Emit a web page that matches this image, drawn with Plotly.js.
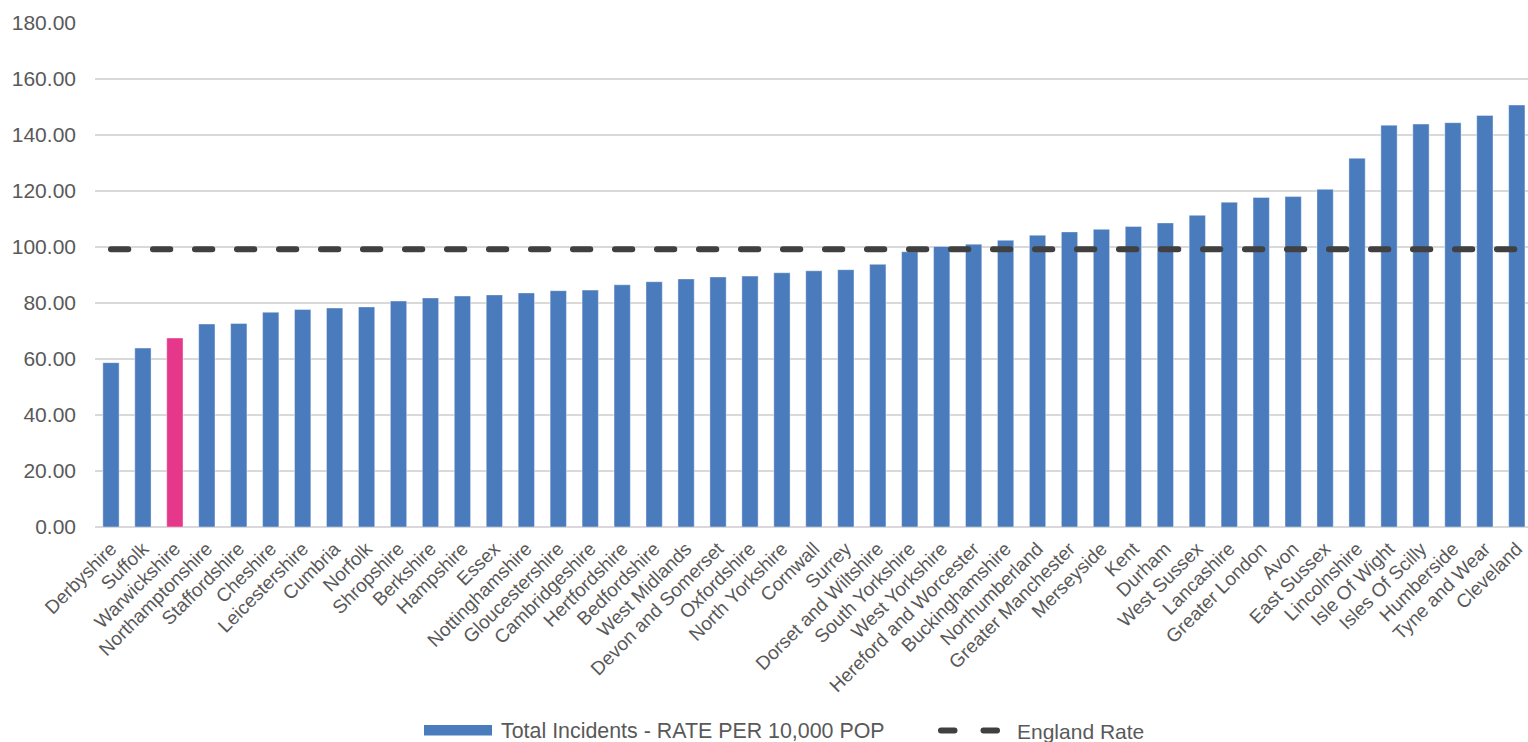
<!DOCTYPE html>
<html>
<head>
<meta charset="utf-8">
<script src="https://cdn.plot.ly/plotly-3.0.1.min.js"></script>
<style>
  html, body { margin: 0; padding: 0; background: #ffffff; }
  #chart { width: 1528px; height: 742px; }
  .scatterlayer .js-line, .shapelayer path.dashcap { stroke-linecap: round !important; }
</style>
</head>
<body>
<div id="chart"></div>
<script>
// ---- Data ----
const categories = [
  "Derbyshire", "Suffolk", "Warwickshire", "Northamptonshire", "Staffordshire",
  "Cheshire", "Leicestershire", "Cumbria", "Norfolk", "Shropshire",
  "Berkshire", "Hampshire", "Essex", "Nottinghamshire", "Gloucestershire",
  "Cambridgeshire", "Hertfordshire", "Bedfordshire", "West Midlands", "Devon and Somerset",
  "Oxfordshire", "North Yorkshire", "Cornwall", "Surrey", "Dorset and Wiltshire",
  "South Yorkshire", "West Yorkshire", "Hereford and Worcester", "Buckinghamshire", "Northumberland",
  "Greater Manchester", "Merseyside", "Kent", "Durham", "West Sussex",
  "Lancashire", "Greater London", "Avon", "East Sussex", "Lincolnshire",
  "Isle Of Wight", "Isles Of Scilly", "Humberside", "Tyne and Wear", "Cleveland"
];
const rateValues = [
  58.7, 63.9, 67.5, 72.5, 72.7,
  76.7, 77.7, 78.2, 78.6, 80.7,
  81.8, 82.5, 82.9, 83.6, 84.4,
  84.6, 86.5, 87.6, 88.6, 89.3,
  89.6, 90.8, 91.5, 91.9, 93.8,
  98.3, 100.2, 101.0, 102.4, 104.2,
  105.4, 106.3, 107.3, 108.6, 111.3,
  116.0, 117.7, 118.0, 120.6, 131.7,
  143.5, 143.9, 144.4, 147.0, 150.7
];
const englandRate = 99.2;
const highlightCategory = "Warwickshire";
const barSeriesName = "Total Incidents - RATE PER 10,000 POP";
const lineSeriesName = "England Rate";
const yTickValues = [0, 20, 40, 60, 80, 100, 120, 140, 160, 180];

// ---- Styles ----
const BAR_COLOR = "#4a7bbd";
const HIGHLIGHT_COLOR = "#e6388b";
const LINE_COLOR = "#404040";
const TEXT_COLOR = "#595959";
const GRID_COLOR = "#d9d9d9";
const FONT = "Liberation Sans, Arial, sans-serif";

const W = 1528, H = 742;
const M = { l: 95, r: 0, t: 23, b: 215 };
const plotW = W - M.l - M.r, plotH = H - M.t - M.b;
const px = x => (x - M.l) / plotW;
const py = y => (H - M.b - y) / plotH;

const barColors = categories.map(c => c === highlightCategory ? HIGHLIGHT_COLOR : BAR_COLOR);
const englandValues = categories.map(() => englandRate);

const traces = [
  {
    type: "bar",
    x: categories,
    y: rateValues,
    name: barSeriesName,
    marker: { color: barColors, line: { color: "rgba(255,255,255,0.5)", width: 0.8 } },
    hoverinfo: "x+y"
  },
  {
    type: "scatter",
    mode: "lines",
    x: categories,
    y: englandValues,
    name: lineSeriesName,
    line: { color: LINE_COLOR, width: 6, dash: "17.3px,24.7px" },
    hoverinfo: "x+y"
  }
];

const shapes = [
  { type: "rect", xref: "paper", yref: "paper",
    x0: px(424), x1: px(492), y0: py(735.5), y1: py(725),
    fillcolor: BAR_COLOR, line: { width: 0 } },
  { type: "line", xref: "paper", yref: "paper",
    x0: px(941), x1: px(997), y0: py(730.5), y1: py(730.5),
    line: { color: LINE_COLOR, width: 6, dash: "13.5px,29px" } }
];

const annotations = [
  { xref: "paper", yref: "paper", x: px(499), y: py(731), xanchor: "left", yanchor: "middle",
    text: barSeriesName, showarrow: false, font: { family: FONT, size: 21.4, color: TEXT_COLOR } },
  { xref: "paper", yref: "paper", x: px(1015), y: py(731), xanchor: "left", yanchor: "middle",
    text: lineSeriesName, showarrow: false, font: { family: FONT, size: 21, color: TEXT_COLOR } }
];

const layout = {
  width: W, height: H,
  margin: M,
  paper_bgcolor: "#ffffff",
  plot_bgcolor: "#ffffff",
  showlegend: false,
  bargap: 0.49,
  font: { family: FONT, color: TEXT_COLOR },
  xaxis: {
    type: "category",
    range: [-0.5, 44.35],
    tickangle: -45,
    tickfont: { family: FONT, size: 19, color: TEXT_COLOR },
    showgrid: false,
    showline: false,
    ticks: "",
    ticklabelstandoff: 6,
    fixedrange: true
  },
  yaxis: {
    range: [0, 180],
    tickvals: yTickValues,
    tickformat: ".2f",
    tickfont: { family: FONT, size: 21, color: TEXT_COLOR },
    showgrid: true,
    gridcolor: GRID_COLOR,
    gridwidth: 1.3,
    zeroline: true,
    zerolinecolor: GRID_COLOR,
    zerolinewidth: 1.5,
    showline: false,
    ticks: "",
    ticklabelstandoff: 18,
    fixedrange: true
  },
  shapes: shapes,
  annotations: annotations
};

Plotly.newPlot("chart", traces, layout, { displayModeBar: false, staticPlot: true }).then(() => {
  document.querySelectorAll(".shapelayer path").forEach(p => p.classList.add("dashcap"));
});
</script>
</body>
</html>
